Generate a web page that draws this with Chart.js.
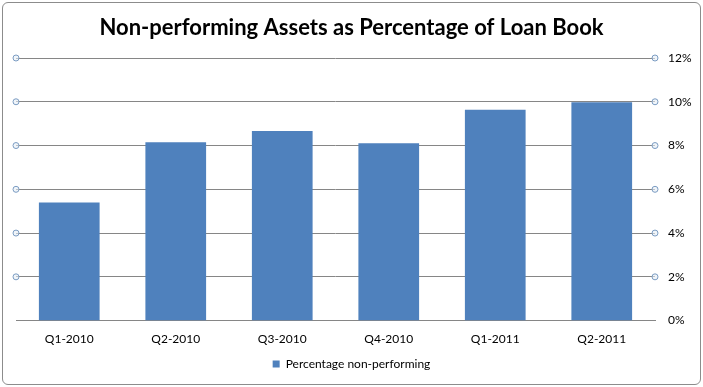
<!DOCTYPE html>
<html>
<head>
<meta charset="utf-8">
<script src="https://cdn.jsdelivr.net/npm/chart.js@4"></script>
<style>
  html, body { margin: 0; padding: 0; background: #fff; }
  #wrap {
    position: absolute; left: 2px; top: 2px;
    width: 697px; height: 381px;
    border: 1px solid #8c8c8c; border-radius: 6px;
    background: #fff; overflow: hidden;
  }
  #chart { display: block; }
</style>
</head>
<body>
<div id="wrap"><canvas id="chart" width="697" height="381"></canvas></div>
<script>
const quarters = ["Q1-2010", "Q2-2010", "Q3-2010", "Q4-2010", "Q1-2011", "Q2-2011"];
const nonPerforming = [5.4, 8.15, 8.66, 8.1, 9.63, 9.98];
const yTicks = [0, 2, 4, 6, 8, 10, 12];

// small circles at both ends of each gridline (Excel tick marks)
const tickCircles = {
    id: "tickCircles",
    afterDraw(chart) {
        const { ctx, chartArea, scales } = chart;
        ctx.save();
        ctx.lineWidth = 1;
        ctx.strokeStyle = "#7b9cc2";
        yTicks.forEach((v) => {
            if (v === 0) return;
            const y = scales.y.getPixelForValue(v);
            [chartArea.left, chartArea.right].forEach((x) => {
                ctx.beginPath();
                ctx.arc(x, y, 3, 0, Math.PI * 2);
                ctx.fillStyle = "rgba(230,238,247,0.6)";
                ctx.fill();
                ctx.stroke();
            });
        });
        ctx.restore();
    },
};

const el = document.getElementById("chart");
new Chart(el, {
    type: "bar",
    data: {
        labels: quarters,
        datasets: [
            {
                label: "Percentage non-performing",
                data: nonPerforming,
                backgroundColor: "#4f81bd",
                barPercentage: 0.57,
                categoryPercentage: 1,
            },
        ],
    },
    options: {
        responsive: false,
        animation: false,
        layout: { padding: { left: 0, right: 0, top: 0, bottom: 4 } },
        plugins: {
            title: {
                display: true,
                text: "Non-performing Assets as Percentage of Loan Book",
                color: "#000",
                font: { family: "Lato", size: 22, weight: "bold" },
                padding: { top: 12, bottom: 16.6 },
            },
            legend: {
                position: "bottom",
                labels: {
                    color: "#000",
                    font: { family: "Lato", size: 12 },
                    boxWidth: 7,
                    boxHeight: 7,
                    padding: 10,
                },
            },
            tooltip: { enabled: false },
        },
        scales: {
            x: {
                grid: { display: false, drawTicks: false },
                border: { display: true, color: "#868686", width: 1 },
                ticks: { color: "#000", font: { family: "Lato", size: 12 }, padding: 11 },
                afterFit: (scale) => {
                    scale.height -= 9;
                },
            },
            yLeft: {
                position: "left",
                min: 0,
                max: 12,
                grid: { display: false, drawTicks: false },
                border: { display: false },
                ticks: { display: false },
                afterFit: (scale) => {
                    scale.width = 13;
                },
            },
            y: {
                position: "right",
                min: 0,
                max: 12,
                afterBuildTicks: (scale) => {
                    scale.ticks = yTicks.map((v) => ({ value: v }));
                },
                afterFit: (scale) => {
                    scale.width = 45;
                },
                grid: { color: "#868686", lineWidth: 1, drawTicks: false },
                border: { display: false },
                ticks: {
                    color: "#000",
                    font: { family: "Lato", size: 12 },
                    padding: 13,
                    callback: (v) => v + "%",
                },
            },
        },
    },
    plugins: [tickCircles],
});
</script>
</body>
</html>
